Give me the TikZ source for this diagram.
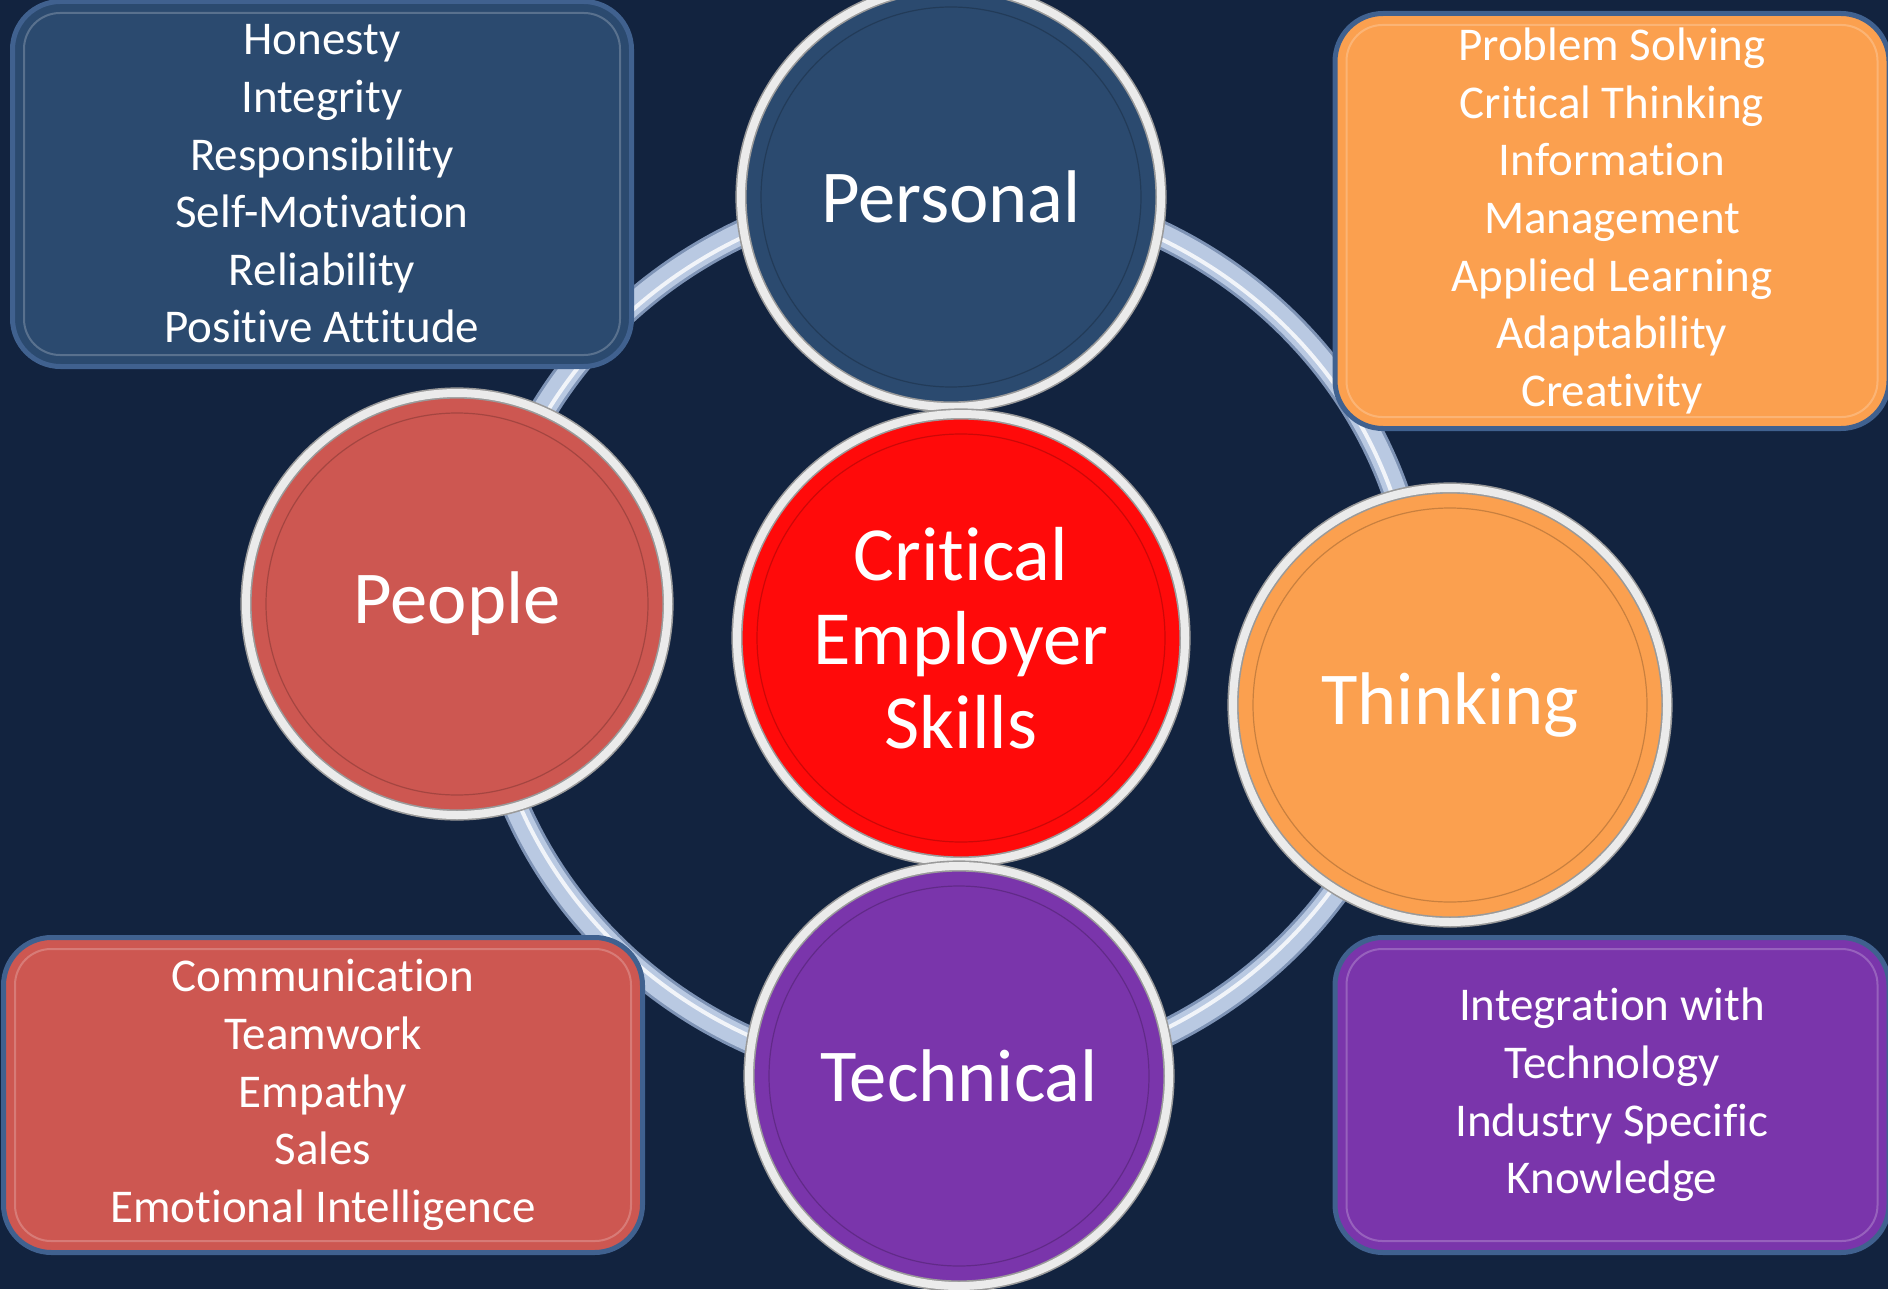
\documentclass[tikz,border=0pt]{standalone}
\usepackage{fontspec}
\setmainfont{Carlito}[Ligatures=NoCommon]
\usepackage{xcolor}
\usepackage{tikz}
\usetikzlibrary{calc}

\definecolor{navybg}{HTML}{12233F}
\definecolor{persblue}{HTML}{2B4A6F}
\definecolor{peoplered}{HTML}{CD5751}
\definecolor{thinkorange}{HTML}{FBA04F}
\definecolor{techpurple}{HTML}{7A35AB}
\definecolor{corered}{HTML}{FF0A0A}
\definecolor{ringblue}{HTML}{B9C9E2}
\definecolor{ringedge}{HTML}{7E93B5}
\definecolor{rimgrey}{HTML}{9A9A9A}
\definecolor{boxedge}{HTML}{40618F}

\tikzset{
  skill/.style={circle, draw=rimgrey, line width=0.8pt, double=white!92!black, double distance=4pt,
    text=white, font=\fontsize{37.3}{42}\selectfont, align=center, inner sep=0pt,
    path picture={\draw[black, opacity=.2, line width=0.6pt]
      let \p1=(path picture bounding box.east), \p2=(path picture bounding box.center)
      in (\p2) circle[radius=\x1-\x2-10pt];}},
  listbox/.style={rectangle, rounded corners=24pt, draw=boxedge, line width=2.5pt,
    text=white, font=\fontsize{23.5}{28.8}\selectfont, align=center, inner sep=0pt},
  bevel/.style={draw=white, opacity=.22, line width=1pt, rounded corners=18pt},
}

\begin{document}
\begin{tikzpicture}[x=0.5pt, y=-0.5pt]
  \useasboundingbox (0,0) rectangle (1888,1289);
  \fill[navybg] (0,0) rectangle (1888,1289);

  % ring behind the circles
  \draw[line width=14pt, ringedge] (950,635) ellipse [x radius=470, y radius=448];
  \draw[line width=11pt, ringblue] (950,635) ellipse [x radius=470, y radius=448];
  \draw[line width=2pt, white!80!ringblue] (950,635) ellipse [x radius=466, y radius=444];

  % skill lists
  \node[listbox, fill=persblue, minimum width=309.5pt, minimum height=182.5pt] (personallist) at (322,184)
    {Honesty\\Integrity\\Responsibility\\Self-Motivation\\Reliability\\Positive Attitude};
  \node[listbox, fill=thinkorange, minimum width=277pt, minimum height=207.5pt] (thinkinglist) at (1612,221)
    {Problem Solving\\Critical Thinking\\Information\\Management\\Applied Learning\\Adaptability\\Creativity};
  \node[listbox, fill=peoplered, minimum width=319.5pt, minimum height=157.5pt] (peoplelist) at (323,1095)
    {Communication\\Teamwork\\Empathy\\Sales\\Emotional Intelligence};
  \node[listbox, fill=techpurple, minimum width=277pt, minimum height=157.5pt] (technicallist) at (1612,1095)
    {Integration with\\Technology\\Industry Specific\\Knowledge};
  \foreach \b in {personallist,thinkinglist,peoplelist,technicallist}
    \draw[bevel] ([shift={(14,14)}]\b.north west) rectangle ([shift={(-14,-14)}]\b.south east);

  % skill circles
  \node[skill, fill=peoplered, minimum size=211pt] (people) at (457,604) {People};
  \node[skill, fill=thinkorange, minimum size=217pt] (thinking) at (1450,705) {Thinking};
  \node[skill, fill=persblue, minimum size=210pt] (personal) at (951,197) {Personal};
  \node[skill, fill=corered, minimum size=224pt, font=\fontsize{38.3}{42}\selectfont] (core) at (961,638) {Critical\\Employer\\Skills};
  \node[skill, fill=techpurple, minimum size=210pt] (technical) at (959,1076) {Technical};
\end{tikzpicture}
\end{document}
